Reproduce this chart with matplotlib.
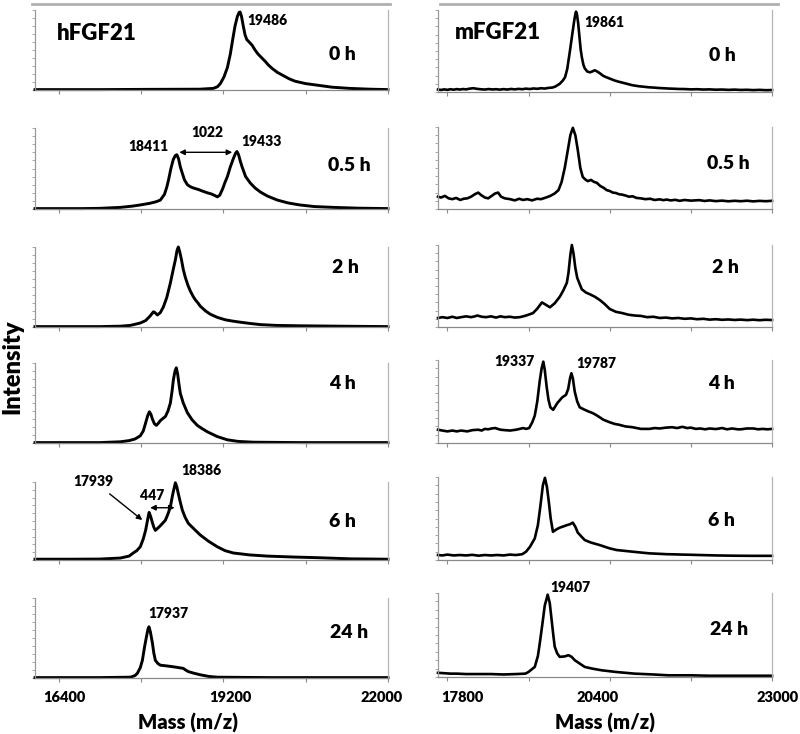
import matplotlib
matplotlib.use("Agg")
import matplotlib.pyplot as plt
from matplotlib.lines import Line2D

plt.rcParams['font.family'] = ['Lato', 'DejaVu Sans']
plt.rcParams['font.weight'] = 'heavy'
BOLD = 'heavy'

W, H = 800, 734

# ---------- data (mass in Da, intensity in % of panel height) ----------
time_labels = ["0 h", "0.5 h", "2 h", "4 h", "6 h", "24 h"]

# hFGF21 (left column)
h0_mass = [16000, 17100, 17950, 18800, 19030, 19100, 19150, 19210, 19270, 19320,
           19360, 19400, 19440, 19470, 19486, 19510, 19540, 19570, 19600, 19640,
           19690, 19740, 19790, 19830, 19870, 19910, 19970, 20030, 20120, 20220,
           20320, 20420, 20600, 20800, 21050, 21350, 21700, 22000]
h0_int = [0.5, 0.5, 0.8, 1.0, 2, 4, 8, 16, 28, 45,
          63, 80, 92, 97, 97.5, 92, 80, 69, 63, 60,
          56, 50, 45, 42, 39, 36, 31, 27, 22, 18,
          14, 11, 8, 6, 3.5, 2, 1, 0.5]

h05_mass = [16000, 16800, 17100, 17450, 17650, 17790, 17950, 18060, 18130, 18200,
            18240, 18270, 18310, 18350, 18385, 18411, 18440, 18470, 18500, 18540,
            18590, 18640, 18690, 18780, 18850, 18930, 19000, 19060, 19100, 19140,
            19190, 19230, 19270, 19320, 19370, 19410, 19433, 19460, 19490, 19520,
            19580, 19660, 19740, 19830, 19950, 20120, 20300, 20500, 20750, 21070,
            21500, 22000]
h05_int = [0.5, 0.5, 0.8, 2, 3.5, 5, 7, 9, 11, 18,
           27, 36, 50, 61, 66, 67, 62, 52, 45, 36,
           30, 27.5, 26, 24, 22, 20, 18.5, 16.5, 15, 17,
           25, 33, 40, 52, 62, 69, 71, 67, 59, 52,
           40, 32, 26, 21, 16, 11, 7.5, 5, 3, 2,
           1, 0.5]

h2_mass = [16000, 17100, 17450, 17620, 17790, 17880, 17960, 18012, 18040, 18080,
           18130, 18182, 18240, 18301, 18350, 18386, 18415, 18436, 18460, 18490,
           18520, 18555, 18600, 18640, 18690, 18725, 18770, 18810, 18900, 18979,
           19100, 19234, 19350, 19489, 19650, 19828, 20100, 20507, 21200, 22000]
h2_int = [0.5, 0.5, 1, 2, 5, 8, 14, 19, 18, 15,
          18, 25, 37, 55, 72, 84, 96, 100, 94, 84,
          72, 62, 52, 45, 38, 34, 30, 26, 20, 16,
          12, 9, 7.5, 6, 4.5, 3, 2, 1.5, 1, 0.5]

h4_mass = [16000, 17100, 17450, 17600, 17700, 17790, 17840, 17880, 17915, 17944,
           17970, 17995, 18030, 18063, 18100, 18131, 18180, 18216, 18260, 18301,
           18330, 18352, 18380, 18402, 18425, 18450, 18470, 18520, 18589, 18670,
           18759, 18840, 18929, 19100, 19268, 19450, 19709, 20507, 22000]
h4_int = [0.5, 0.5, 1.5, 3, 5, 9, 15, 25, 34, 39,
          36, 30, 24, 22, 25, 28, 31, 33, 40, 50,
          65, 79, 90, 94, 86, 72, 62, 50, 38, 29,
          22, 18, 14, 8, 4, 2, 1, 0.5, 0.5]

h6_mass = [16000, 16600, 17100, 17450, 17600, 17670, 17730, 17790, 17840, 17880,
           17915, 17939, 17965, 17995, 18020, 18046, 18090, 18131, 18180, 18216,
           18260, 18301, 18330, 18352, 18386, 18410, 18436, 18470, 18504, 18550,
           18606, 18700, 18810, 18950, 19098, 19230, 19370, 19650, 19947, 20400,
           20795, 21355, 22000]
h6_int = [1, 1, 1.2, 2.5, 5, 9, 12, 17, 27, 38,
          52, 61, 56, 48, 42, 38, 41, 44, 48, 51,
          59, 68, 80, 88, 99, 94, 85, 74, 64, 55,
          47, 40, 32, 24, 17, 12, 9, 6.5, 5, 3.8,
          3, 1.5, 1]

h24_mass = [16000, 17100, 17620, 17700, 17741, 17790, 17825, 17860, 17893, 17920,
            17937, 17960, 17995, 18020, 18046, 18090, 18131, 18250, 18352, 18440,
            18521, 18560, 18606, 18700, 18810, 18950, 19098, 20000, 22000]
h24_int = [0.5, 0.5, 1, 3, 6, 13, 22, 38, 51, 61,
           64, 58, 44, 31, 22, 18, 16, 15, 14, 13,
           12, 10, 8, 6, 4, 2, 1, 0.5, 0.5]

# mFGF21 (right column)
m0_mass = [17650, 17700, 17750, 17800, 17850, 17900, 17950, 18000, 18050, 18100,
           18150, 18215, 18280, 18340, 18400, 18460, 18520, 18580, 18640, 18700,
           18760, 18820, 18880, 18940, 19000, 19060, 19120, 19180, 19240, 19300,
           19360, 19420, 19480, 19526, 19600, 19650, 19685, 19720, 19765, 19800,
           19830, 19850, 19861, 19875, 19895, 19915, 19935, 19955, 19980, 20000,
           20040, 20085, 20120, 20160, 20200, 20240, 20290, 20330, 20380, 20430,
           20480, 20547, 20600, 20650, 20700, 20750, 20800, 20870, 20950, 21020,
           21100, 21180, 21260, 21344, 21420, 21500, 21600, 21700, 21800, 21900,
           22000, 22100, 22200, 22300, 22400, 22500, 22600, 22700, 22800, 22900,
           23000]
m0_int = [3.0, 2.5, 3.2, 2.6, 3.4, 2.8, 3.5, 3.0, 3.6, 3.2,
          4.0, 4.6, 3.8, 3.3, 3.0, 3.6, 3.1, 3.4, 2.9, 3.5,
          3.0, 3.7, 3.2, 3.8, 3.4, 4.1, 3.6, 4.3, 3.9, 4.6,
          4.2, 5.0, 5.4, 6.5, 10, 14, 18, 28, 51, 70,
          86, 95, 98, 95, 84, 68, 52, 42, 33, 29,
          25, 24, 25, 26.5, 25, 23, 20, 18.5, 17, 15.5,
          14, 12.5, 11.5, 10.5, 9.5, 8.5, 7.8, 7.0, 6.4, 5.8,
          5.4, 4.9, 4.6, 4.2, 4.0, 3.7, 3.6, 3.2, 3.4, 3.0,
          3.2, 2.8, 3.0, 2.6, 2.9, 2.5, 2.7, 2.3, 2.6, 2.2,
          2.4]

m05_mass = [17650, 17700, 17760, 17820, 17880, 17940, 18007, 18060, 18120, 18180,
            18240, 18294, 18340, 18400, 18454, 18510, 18566, 18613, 18660, 18720,
            18805, 18880, 18950, 19012, 19080, 19156, 19236, 19300, 19380, 19450,
            19520, 19580, 19630, 19680, 19730, 19770, 19810, 19850, 19889, 19930,
            19969, 20010, 20049, 20100, 20150, 20193, 20250, 20300, 20352, 20400,
            20450, 20500, 20550, 20600, 20650, 20710, 20767, 20830, 20900, 20970,
            21050, 21120, 21200, 21260, 21309, 21380, 21450, 21520, 21600, 21700,
            21835, 21920, 22000, 22100, 22200, 22300, 22400, 22500, 22600, 22700,
            22800, 22900, 23000]
m05_int = [15, 14, 16, 13, 12, 13.5, 11, 12.5, 13, 15,
           18, 20, 17, 14, 13, 16, 19, 20, 15, 13,
           12, 10.5, 12.5, 11, 12, 10.5, 12.5, 12, 14, 16,
           19, 23, 33, 50, 72, 90, 99, 90, 72, 50,
           39, 36, 34, 35.5, 33, 32, 28, 26, 23, 22,
           20, 19.5, 18, 17.5, 16.5, 15, 15.5, 13.5, 13, 12,
           12.5, 11, 11.8, 10.8, 11.5, 10.5, 11.2, 10, 11, 10.2,
           10.8, 9.8, 10.5, 9.6, 10.2, 9.4, 10, 9.5, 10.1, 9.3,
           9.9, 9.5, 10]

m2_mass = [17650, 17720, 17800, 17880, 17950, 18020, 18100, 18180, 18240, 18280,
           18350, 18420, 18500, 18580, 18650, 18720, 18800, 18880, 18960, 19040,
           19100, 19172, 19236, 19315, 19380, 19443, 19520, 19602, 19660, 19714,
           19740, 19770, 19794, 19820, 19850, 19880, 19953, 20020, 20081, 20160,
           20240, 20320, 20400, 20500, 20600, 20700, 20800, 20900, 21000, 21100,
           21200, 21300, 21400, 21500, 21600, 21700, 21800, 21900, 22000, 22100,
           22200, 22300, 22400, 22500, 22600, 22700, 22800, 22900, 23000]
m2_int = [11, 12, 11, 12.5, 11, 12, 13, 12, 13, 14,
          12.5, 12, 13, 11.5, 13, 12, 12.5, 11.5, 12, 13.5,
          15, 17, 22, 30, 27, 24, 29, 37, 45, 54,
          66, 88, 100, 90, 72, 60, 46, 42, 40, 37,
          33, 28, 22, 18.5, 17, 15, 14, 13.5, 12, 12.5,
          11, 11.5, 10.5, 11, 10, 10.5, 9.5, 10, 9, 9.5,
          8.8, 9.2, 8.6, 9, 8.4, 8.9, 8.3, 8.8, 8.5]

m4_mass = [17650, 17720, 17800, 17880, 17950, 18020, 18119, 18200, 18294, 18350,
           18400, 18454, 18510, 18566, 18650, 18720, 18805, 18900, 18960, 19012,
           19060, 19110, 19160, 19200, 19240, 19280, 19310, 19337, 19360, 19390,
           19420, 19450, 19495, 19560, 19640, 19700, 19735, 19765, 19787, 19810,
           19840, 19880, 19920, 20000, 20060, 20129, 20200, 20300, 20400, 20480,
           20550, 20650, 20767, 20900, 21038, 21120, 21200, 21300, 21400, 21480,
           21564, 21640, 21700, 21780, 21850, 21930, 22000, 22100, 22200, 22280,
           22362, 22450, 22500, 22600, 22700, 22780, 22850, 22930, 23000]
m4_int = [16, 15, 14, 15, 14, 15, 14, 15.5, 16, 15,
          17, 16.5, 17.5, 18, 16, 15.5, 15, 16, 17, 18,
          17, 18, 25, 33, 50, 75, 90, 98, 88, 68,
          52, 43, 40, 48, 55, 58, 65, 78, 84, 78,
          62, 50, 43, 40, 38, 36, 33, 28, 25, 23,
          22, 20, 19, 17, 17, 18, 17.5, 18.5, 19, 18,
          19.5, 18, 18.5, 17, 17.5, 16.5, 17.5, 16.8, 18, 16.5,
          17.5, 16.5, 16.5, 17.5, 17.5, 16.5, 17, 16.5, 17]

m6_mass = [17650, 17720, 17800, 17900, 18000, 18100, 18200, 18300, 18400, 18500,
           18600, 18700, 18800, 18900, 19000, 19060, 19124, 19200, 19250, 19290,
           19330, 19363, 19395, 19425, 19455, 19491, 19550, 19602, 19660, 19714,
           19760, 19810, 19850, 19889, 19950, 20001, 20100, 20240, 20320, 20400,
           20512, 20640, 20767, 20900, 21038, 21180, 21309, 21440, 21564, 21700,
           21835, 22000, 22100, 22362, 22500, 22700, 22850, 23000]
m6_int = [6, 5.5, 6.5, 5.5, 6, 5.5, 6.2, 5.2, 6, 5.5,
          6, 5.5, 6.5, 6, 7, 10, 16, 26, 42, 65,
          90, 99, 88, 70, 50, 34, 37, 39, 40.5, 42,
          43, 45, 40, 33, 28, 24, 21, 18, 16, 14,
          12, 11, 10, 9, 8, 7.5, 7, 6.8, 6.5, 6.3,
          6, 5.7, 5.5, 5.2, 5.1, 5, 5, 5]

m24_mass = [17650, 17750, 17850, 17950, 18100, 18300, 18500, 18700, 18900, 19050,
            19100, 19200, 19250, 19280, 19320, 19360, 19407, 19440, 19470, 19500,
            19520, 19560, 19600, 19680, 19740, 19790, 19840, 19920, 20000, 20120,
            20270, 20500, 20800, 21100, 21340, 21700, 22000, 22500, 23000]
m24_int = [5, 4.5, 4, 4, 3.5, 3.5, 3.5, 3, 3.5, 4,
           6, 12, 25, 40, 62, 85, 98, 88, 68, 48,
           36, 28, 24, 24.5, 26, 24, 20, 16, 12, 10,
           8, 6, 4, 3, 2, 2, 1.5, 1.5, 1.5]

h_series = [(h0_mass, h0_int), (h05_mass, h05_int), (h2_mass, h2_int),
            (h4_mass, h4_int), (h6_mass, h6_int), (h24_mass, h24_int)]
m_series = [(m0_mass, m0_int), (m05_mass, m05_int), (m2_mass, m2_int),
            (m4_mass, m4_int), (m6_mass, m6_int), (m24_mass, m24_int)]

h_ticks = [16400, 17800, 19200, 20600, 22000]
h_ticklabels = ["16400", "", "19200", "", "22000"]
m_ticks = [17800, 19100, 20400, 21700, 23000]
m_ticklabels = ["17800", "", "20400", "", "23000"]

# ---------- layout (pixels) ----------
h_left, h_right = 35, 388
m_left, m_right = 438, 772
h_tops = [10, 128, 247, 363, 482, 598]
m_tops = [10, 127, 245, 360, 477, 593]
h_bots = [90, 209, 327, 443, 560, 678]
m_bots = [92, 209, 327, 443, 560, 677]
h_time_pos = [(0.87, 0.44), (0.89, 0.54), (0.88, 0.74), (0.87, 0.74), (0.87, 0.49), (0.89, 0.575)]
m_time_pos = [(0.85, 0.45), (0.87, 0.56), (0.86, 0.72), (0.85, 0.72), (0.85, 0.48), (0.87, 0.56)]

fig = plt.figure(figsize=(W / 100, H / 100), dpi=100)


def add_panel(x0, x1, top, bot):
    return fig.add_axes([x0 / W, 1 - bot / H, (x1 - x0) / W, (bot - top) / H])


def style_panel(ax, xlim, ticks):
    ax.set_xlim(*xlim)
    ax.set_ylim(0, 100)
    ax.spines['top'].set_visible(False)
    ax.spines['left'].set_color('#9a9a9a')
    ax.spines['right'].set_color('#b5b5b5')
    ax.spines['bottom'].set_color('#8a8a8a')
    for s in ['left', 'right', 'bottom']:
        ax.spines[s].set_linewidth(0.9)
    ax.set_xticks(ticks)
    ax.set_xticklabels([])
    ax.set_yticks(range(0, 101, 10))
    ax.set_yticklabels([])
    ax.tick_params(axis='x', direction='out', length=3, width=0.8, color='#8a8a8a')
    ax.tick_params(axis='y', direction='out', length=2, width=0.6, color='#9a9a9a')


axes_h, axes_m = [], []
for i in range(6):
    ax = add_panel(h_left, h_right, h_tops[i], h_bots[i])
    style_panel(ax, (16000, 22000), h_ticks)
    ax.plot(h_series[i][0], h_series[i][1], color='black', lw=2.1,
            solid_joinstyle='round', clip_on=False)
    ax.text(h_time_pos[i][0], h_time_pos[i][1], time_labels[i], transform=ax.transAxes,
            ha='center', va='center', fontsize=14, fontweight=BOLD)
    axes_h.append(ax)

    ax = add_panel(m_left, m_right, m_tops[i], m_bots[i])
    style_panel(ax, (17650, 23000), m_ticks)
    ax.plot(m_series[i][0], m_series[i][1], color='black', lw=1.9,
            solid_joinstyle='round', clip_on=False)
    ax.text(m_time_pos[i][0], m_time_pos[i][1], time_labels[i], transform=ax.transAxes,
            ha='center', va='center', fontsize=14, fontweight=BOLD)
    axes_m.append(ax)

# tick labels under the bottom row (slightly offset like the original)
for ax, ticks, labels, offs in [(axes_h[-1], h_ticks, h_ticklabels, [6, 0, 7, 0, -6]),
                                (axes_m[-1], m_ticks, m_ticklabels, [15, 0, -12, 0, 6])]:
    for t, lab, dx in zip(ticks, labels, offs):
        if lab:
            ax.annotate(lab, xy=(t, 0), xycoords=('data', 'axes fraction'),
                        xytext=(dx, -20), textcoords='offset pixels',
                        ha='center', va='center', fontsize=10.5, fontweight=BOLD,
                        annotation_clip=False)

# protein names
axes_h[0].text(0.175, 0.71, "hFGF21", transform=axes_h[0].transAxes, ha='center',
               va='center', fontsize=16, fontweight=BOLD)
axes_m[0].text(0.18, 0.72, "mFGF21", transform=axes_m[0].transAxes, ha='center',
               va='center', fontsize=16, fontweight=BOLD)

# peak annotations
lab_kw = dict(ha='center', va='center', fontsize=10, fontweight=BOLD)
arr_kw = dict(lw=1.0, color='black', mutation_scale=8)
axes_h[0].text(19950, 87, "19486", **lab_kw)
axes_h[1].text(17927, 77, "18411", **lab_kw)
axes_h[1].text(18929, 94, "1022", **lab_kw)
axes_h[1].text(19845, 83, "19433", **lab_kw)
axes_h[1].annotate('', xy=(19400, 70), xytext=(18405, 70),
                   arrowprops=dict(arrowstyle='<|-|>', **arr_kw))
axes_h[4].text(16994, 100, "17939", **lab_kw)
axes_h[4].annotate('', xy=(17860, 49), xytext=(17232, 87),
                   arrowprops=dict(arrowstyle='-|>', **arr_kw))
axes_h[4].text(17995, 83, "447", **lab_kw)
axes_h[4].annotate('', xy=(18420, 67), xytext=(17910, 67),
                   arrowprops=dict(arrowstyle='<|-|>', **arr_kw))
axes_h[4].text(18827, 115, "18386", **lab_kw)
axes_h[5].text(18267, 81, "17937", **lab_kw)

axes_m[0].text(20320, 85, "19861", **lab_kw)
axes_m[3].text(18869, 98, "19337", **lab_kw)
axes_m[3].text(20192, 96, "19787", **lab_kw)
axes_m[5].text(19778, 107, "19407", **lab_kw)

# grey line on top of each column
for x0, x1 in [(32, 390), (440, 778)]:
    fig.add_artist(Line2D([x0 / W, x1 / W], [1 - 4 / H, 1 - 4 / H],
                          color='#b0b0b0', lw=2))

# axis titles
fig.text(188 / W, 1 - 723 / H, "Mass (m/z)", ha='center', va='center',
         fontsize=14.5, fontweight=BOLD)
fig.text(605 / W, 1 - 723 / H, "Mass (m/z)", ha='center', va='center',
         fontsize=14.5, fontweight=BOLD)
fig.text(12 / W, 1 - 367 / H, "Intensity", ha='center', va='center', rotation=90,
         fontsize=17, fontweight=BOLD)

fig.savefig("out.png", dpi=100)
